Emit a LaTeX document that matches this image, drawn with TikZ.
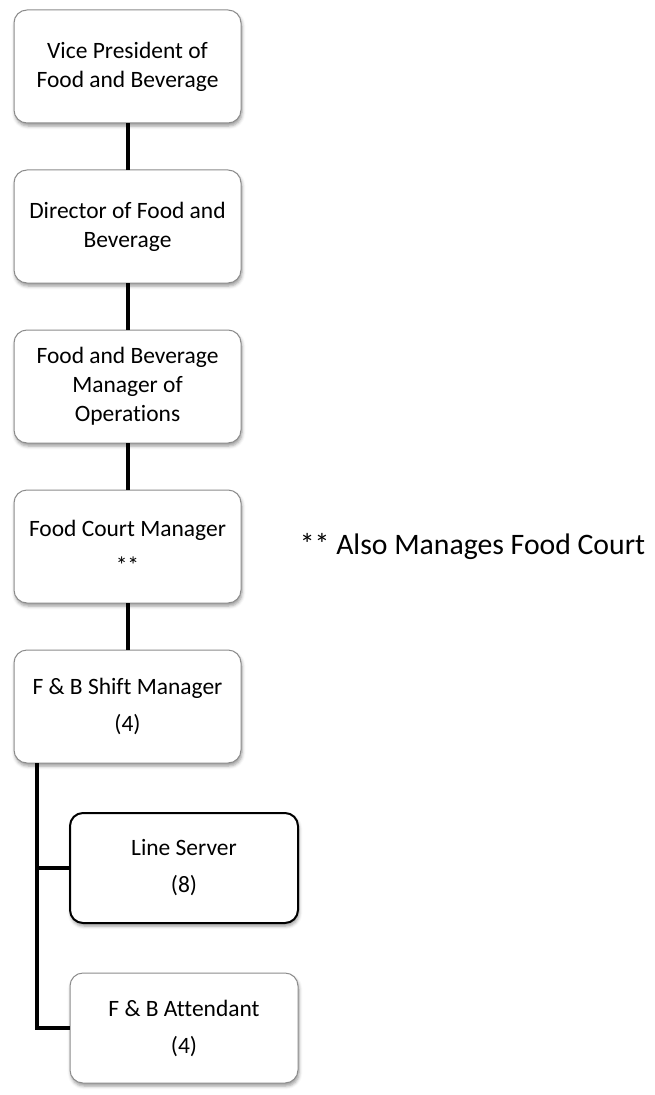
\documentclass[tikz,border=0pt]{standalone}
\usepackage{fontspec}
\setmainfont{Carlito}[Ligatures=NoCommon]
\usepackage{tikz}
\usetikzlibrary{positioning, shadows.blur}

\begin{document}
\begin{tikzpicture}[
  font=\fontsize{17.6pt}{21.75pt}\selectfont,
  node distance=35.25pt,
  role/.style={draw=black!45, line width=0.75pt, rounded corners=9.75pt,
    fill=white, minimum width=170.25pt, minimum height=84.75pt,
    align=center, inner sep=2pt, outer sep=0pt,
    blur shadow={shadow xshift=0.75pt, shadow yshift=-2.25pt,
      shadow blur radius=2.5pt, shadow opacity=40}},
  staff/.style={role, minimum width=171pt, minimum height=82.5pt},
  lead/.style={staff, draw=black, line width=1.5pt},
  note/.style={font=\fontsize{22.3pt}{26pt}\selectfont, inner sep=0pt},
  link/.style={line width=3pt},
]
  \useasboundingbox (0,0) rectangle (490.5pt,-821.25pt);

  \node[role] (vp) at (95.625pt,-49.875pt) {Vice President of\\Food and Beverage};
  \node[role, below=of vp] (dir) {Director of Food and\\Beverage};
  \node[role, below=of dir] (fbm) {Food and Beverage\\Manager of\\Operations};
  \node[role, below=of fbm] (fcm) {Food Court Manager\\[6pt]**};
  \node[role, below=of fcm] (shift) {F \& B Shift Manager\\[6pt](4)};

  \node[lead, below right=37.5pt and 42pt of shift.south west, anchor=north west]
    (line) {Line Server\\[6pt](8)};
  \node[staff, below=37.5pt of line] (att) {F \& B Attendant\\[6pt](4)};

  \node[note, right=44pt of fcm] (also) {** Also Manages Food Court};

  \foreach \a/\b in {vp/dir, dir/fbm, fbm/fcm, fcm/shift}
    \draw[link] (\a) -- (\b);

  \coordinate (trunk) at ([xshift=17.25pt]shift.south west);
  \draw[link] (trunk) |- (line.west);
  \draw[link] (trunk) |- (att.west);
\end{tikzpicture}
\end{document}
